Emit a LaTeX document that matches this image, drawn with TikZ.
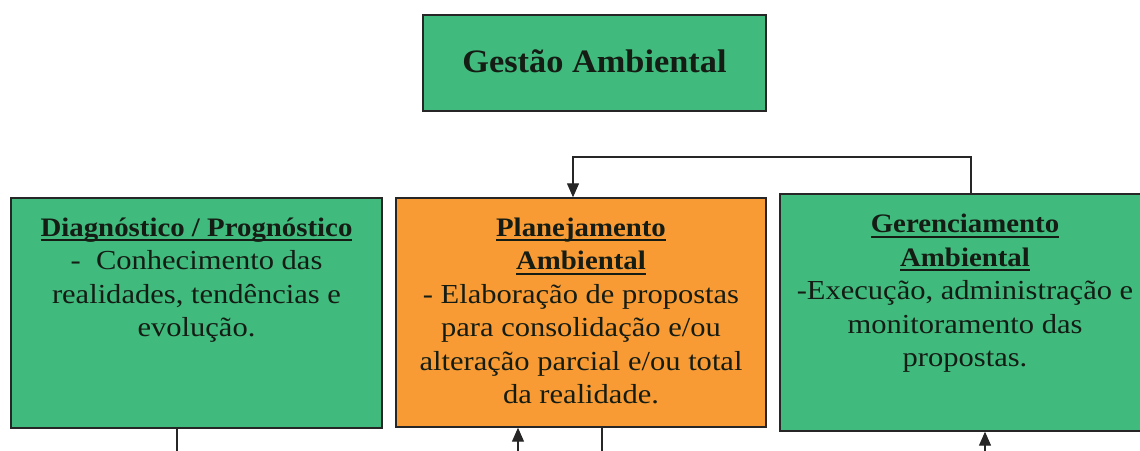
\documentclass[tikz,border=0pt]{standalone}
\usepackage{fontspec}
\setmainfont{Liberation Serif}
\newfontfamily\bodyfont{Liberation Serif}[FakeStretch=1.11]
\newfontfamily\headfont{Liberation Serif}[FakeStretch=1.08]
\newfontfamily\titlefont{Liberation Serif}[FakeStretch=1.05]
\usetikzlibrary{arrows.meta,calc}
\definecolor{boxgreen}{RGB}{64,186,125}
\definecolor{boxorange}{RGB}{249,155,52}
\definecolor{inkdark}{RGB}{20,28,20}
\newsavebox\hdbox
\newcommand{\hdul}[1]{\sbox\hdbox{\headfont\bfseries\fontsize{26.7}{33.5}\selectfont #1}\rlap{\rule[-5pt]{\wd\hdbox}{2pt}}\usebox\hdbox}
\newcommand{\firstline}{\rule{0pt}{20pt}}
\begin{document}
\begin{tikzpicture}[x=1pt,y=-1pt,
 box/.style={draw=black!85,line width=1.4pt,inner sep=0pt},
 txt/.style={align=center,inner sep=0pt,anchor=north,text=inkdark,font=\bodyfont\fontsize{27.5}{33.5}\selectfont},
 conn/.style={line width=1.2pt,draw=black!85},
 arr/.style={conn,-{Triangle[length=14pt,width=12pt]}}]
\useasboundingbox (0,0) rectangle (1140,450);
\clip (0,0) rectangle (1140,450);
\fill[white] (0,0) rectangle (1140,450);
\node[box,fill=boxgreen,minimum width=343pt,minimum height=96pt,text=inkdark,text height=24pt,text depth=6pt,font=\titlefont\bfseries\fontsize{32.7}{36}\selectfont] (top) at (594.5,63) {Gestão Ambiental};
\node[box,fill=boxgreen,minimum width=371pt,minimum height=230pt] (left) at (196.5,313) {};
\node[box,fill=boxorange,minimum width=370pt,minimum height=229pt] (mid) at (581,312.5) {};
\node[box,fill=boxgreen,minimum width=370pt,minimum height=237pt] (right) at (965,312.5) {};
\node[txt] (lefttxt) at (196.5,216) {\firstline\hdul{Diagnóstico / Prognóstico}\\ -\ \ Conhecimento das\\ realidades, tendências e\\ evolução.};
\node[txt] (midtxt) at (581,216) {\firstline\hdul{Planejamento}\\ \hdul{Ambiental}\\ - Elaboração de propostas\\ para consolidação e/ou\\ alteração parcial e/ou total\\ da realidade.};
\node[txt] (righttxt) at (965,212.5) {\firstline\hdul{Gerenciamento}\\ \hdul{Ambiental}\\ -Execução, administração e\\ monitoramento das\\ propostas.};
\coordinate (e1) at (971,157);
\coordinate (e2) at (573,157);
\draw[arr] (right.north -| e1) -- (e1) -- (e2) -- (mid.north -| e2);
\coordinate (b1) at (177,460);
\coordinate (b2) at (518,460);
\coordinate (b3) at (602,460);
\coordinate (b4) at (985,460);
\draw[conn] (left.south -| b1) -- (b1);
\draw[arr] (b2) -- (mid.south -| b2);
\draw[conn] (mid.south -| b3) -- (b3);
\draw[arr] (b4) -- (right.south -| b4);
\end{tikzpicture}
\end{document}
